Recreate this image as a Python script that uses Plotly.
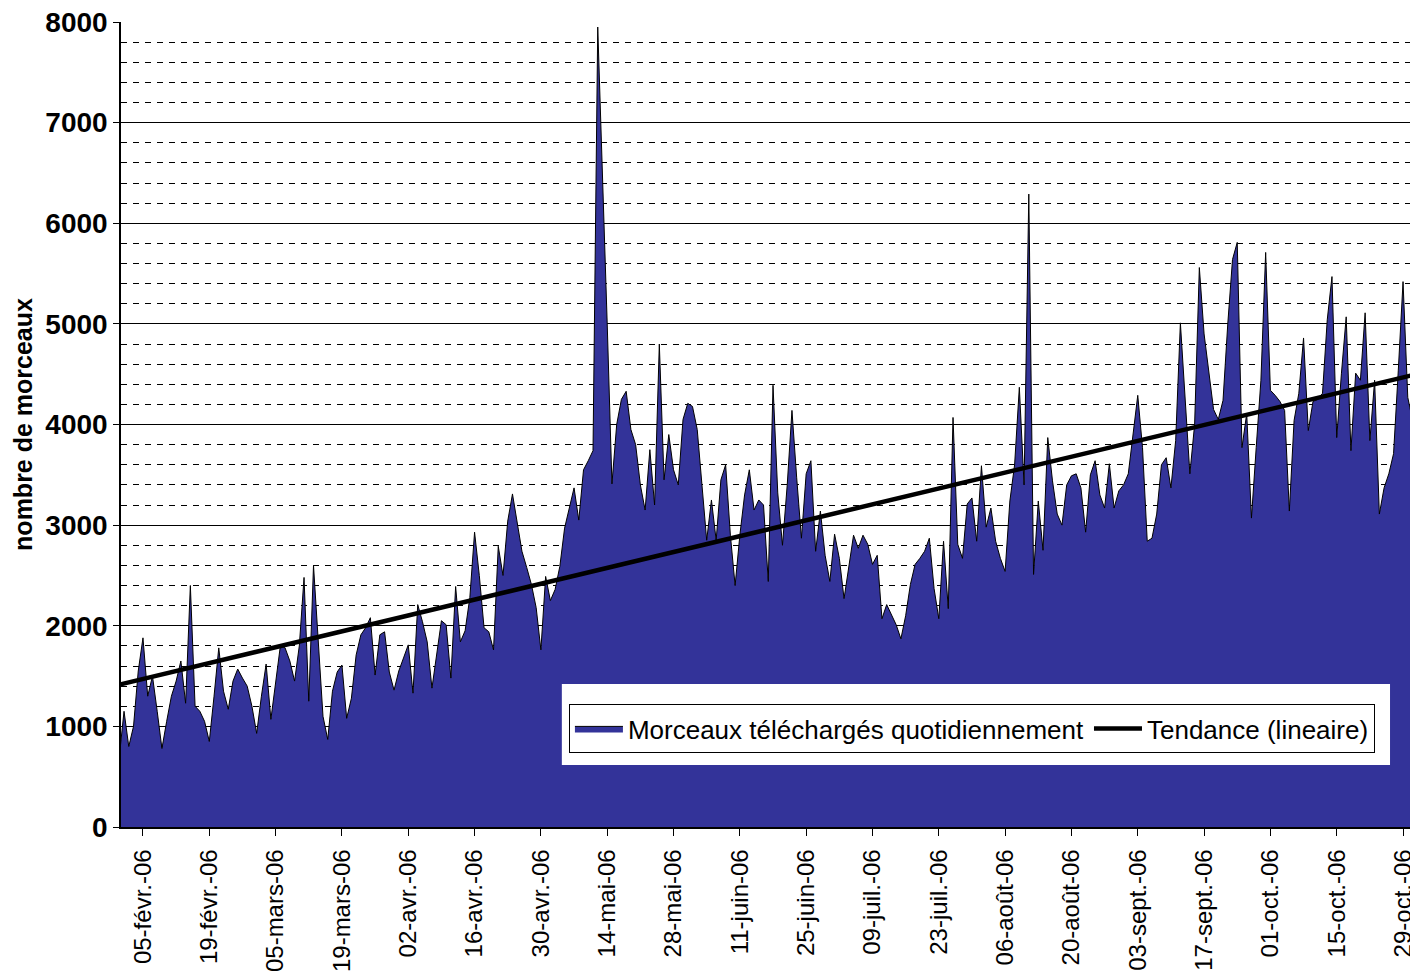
import numpy as np
import pandas as pd
import plotly.graph_objects as go

# ---- data ----
start_date = "2006-01-31"
daily_values = [
    700, 1150, 800, 1000, 1550, 1880, 1300, 1500, 1150, 780,
    1050, 1300, 1450, 1650, 1230, 2400, 1200, 1150, 1050, 850,
    1300, 1780, 1350, 1170, 1450, 1570, 1480, 1400, 1200, 930,
    1300, 1620, 1070, 1450, 1800, 1780, 1650, 1450, 1800, 2480,
    1250, 2600, 1870, 1100, 870, 1350, 1540, 1610, 1080, 1280,
    1710, 1910, 1980, 2080, 1510, 1910, 1940, 1540, 1360, 1550,
    1680, 1810, 1330, 2210, 2040, 1840, 1380, 1710, 2050, 2010,
    1480, 2390, 1840, 1950, 2280, 2930, 2500, 1980, 1940, 1760,
    2790, 2500, 3040, 3310, 3040, 2740, 2580, 2410, 2180, 1760,
    2490, 2250, 2360, 2590, 2970, 3160, 3370, 3050, 3550, 3640,
    3740, 7950, 6550, 5000, 3410, 4000, 4250, 4330, 3950, 3800,
    3400, 3150, 3750, 3200, 4800, 3450, 3900, 3550, 3400, 4050,
    4210, 4180, 3950, 3400, 2850, 3250, 2850, 3450, 3600, 2900,
    2400, 2900, 3300, 3550, 3150, 3250, 3200, 2440, 4390, 3320,
    2800, 3400, 4140, 3470, 2870, 3510, 3640, 2740, 3140, 2700,
    2440, 2910, 2670, 2270, 2610, 2900, 2770, 2900, 2810, 2610,
    2700, 2070, 2210, 2110, 2010, 1870, 2100, 2410, 2610, 2670,
    2740, 2870, 2370, 2070, 2840, 2170, 4070, 2810, 2670, 3210,
    3270, 2840, 3590, 2980, 3170, 2840, 2670, 2540, 3240, 3600,
    4370, 3400, 6290, 2510, 3240, 2750, 3870, 3440, 3110, 3000,
    3400, 3490, 3510, 3370, 2930, 3500, 3640, 3300, 3170, 3610,
    3170, 3340, 3400, 3510, 3900, 4290, 3770, 2840, 2870, 3110,
    3600, 3670, 3370, 3840, 5010, 4240, 3510, 4000, 5560, 4900,
    4500, 4150, 4050, 4240, 5000, 5640, 5810, 3770, 4110, 3070,
    3770, 4440, 5710, 4340, 4290, 4230, 4140, 3140, 4040, 4310,
    4860, 3940, 4230, 4250, 4310, 5040, 5470, 3870, 4510, 5070,
    3740, 4510, 4440, 5110, 3840, 4440, 3110, 3370, 3510, 3710,
    4540, 5420, 4270, 4040,
]
tick_dates = [
    "2006-02-05", "2006-02-19", "2006-03-05", "2006-03-19", "2006-04-02",
    "2006-04-16", "2006-04-30", "2006-05-14", "2006-05-28", "2006-06-11",
    "2006-06-25", "2006-07-09", "2006-07-23", "2006-08-06", "2006-08-20",
    "2006-09-03", "2006-09-17", "2006-10-01", "2006-10-15", "2006-10-29",
]
tick_labels = [
    "05-févr.-06", "19-févr.-06", "05-mars-06", "19-mars-06", "02-avr.-06",
    "16-avr.-06", "30-avr.-06", "14-mai-06", "28-mai-06", "11-juin-06",
    "25-juin-06", "09-juil.-06", "23-juil.-06", "06-août-06", "20-août-06",
    "03-sept.-06", "17-sept.-06", "01-oct.-06", "15-oct.-06", "29-oct.-06",
]
series_name = "Morceaux téléchargés quotidiennement"
trend_name = "Tendance (lineaire)"
y_title = "nombre de morceaux"

dates = pd.date_range(start_date, periods=len(daily_values), freq="D")
day_index = np.arange(len(daily_values))
coef = np.polyfit(day_index, np.array(daily_values, dtype=float), 1)
trend_values = np.polyval(coef, day_index)

FONT = "Liberation Sans, Arial, sans-serif"

fig = go.Figure()
fig.add_trace(go.Scatter(
    x=dates, y=daily_values, mode="lines", name=series_name,
    fill="tozeroy", fillcolor="#333399",
    line=dict(color="black", width=1),
))
fig.add_trace(go.Scatter(
    x=dates, y=trend_values, mode="lines", name=trend_name,
    line=dict(color="black", width=4.5),
))

# white padding area behind the legend
fig.add_shape(type="rect", xref="paper", yref="paper",
              x0=0.342, x1=0.9845, y0=0.077, y1=0.1776,
              fillcolor="white", line=dict(width=0), layer="above")

fig.update_layout(
    width=1410, height=971, autosize=False,
    margin=dict(l=121, r=0, t=22, b=144),
    paper_bgcolor="white", plot_bgcolor="white",
    font=dict(family=FONT, color="black"),
    showlegend=True,
    legend=dict(
        orientation="h", x=0.3475, y=0.1528, xanchor="left", yanchor="top",
        bgcolor="white", bordercolor="black", borderwidth=1,
        font=dict(family=FONT, size=26, color="black"),
        itemwidth=48, tracegroupgap=0,
    ),
    xaxis=dict(
        type="date", automargin=False,
        range=["2006-01-31 08:38", "2006-10-30 11:17"],
        tickmode="array", tickvals=tick_dates, ticktext=tick_labels,
        tickangle=-90, ticks="outside", ticklen=7, tickcolor="black",
        showline=True, linecolor="black", linewidth=1.5,
        showgrid=False, zeroline=False,
        tickfont=dict(family=FONT, size=24, color="black"),
        ticklabelstandoff=4, ticklabeloverflow="allow",
    ),
    yaxis=dict(
        range=[0, 8000], tickmode="linear", tick0=0, dtick=1000,
        automargin=False,
        ticks="outside", ticklen=6, tickcolor="black",
        showline=True, linecolor="black", linewidth=1.5,
        showgrid=True, gridcolor="black", gridwidth=1,
        zeroline=False,
        minor=dict(dtick=200, showgrid=True, gridcolor="black",
                   gridwidth=1, griddash="6px,6px", ticks=""),
        tickfont=dict(family=FONT, size=28, color="black", weight="bold"),
        ticklabelstandoff=0, ticklabeloverflow="allow",
        title=dict(text=y_title, standoff=6,
                   font=dict(family=FONT, size=25, color="black", weight="bold")),
    ),
)

fig.write_html(
    "out.html",
    config={"responsive": False, "displayModeBar": False},
    post_script="document.body.style.margin='0';document.body.style.overflow='hidden';",
)
